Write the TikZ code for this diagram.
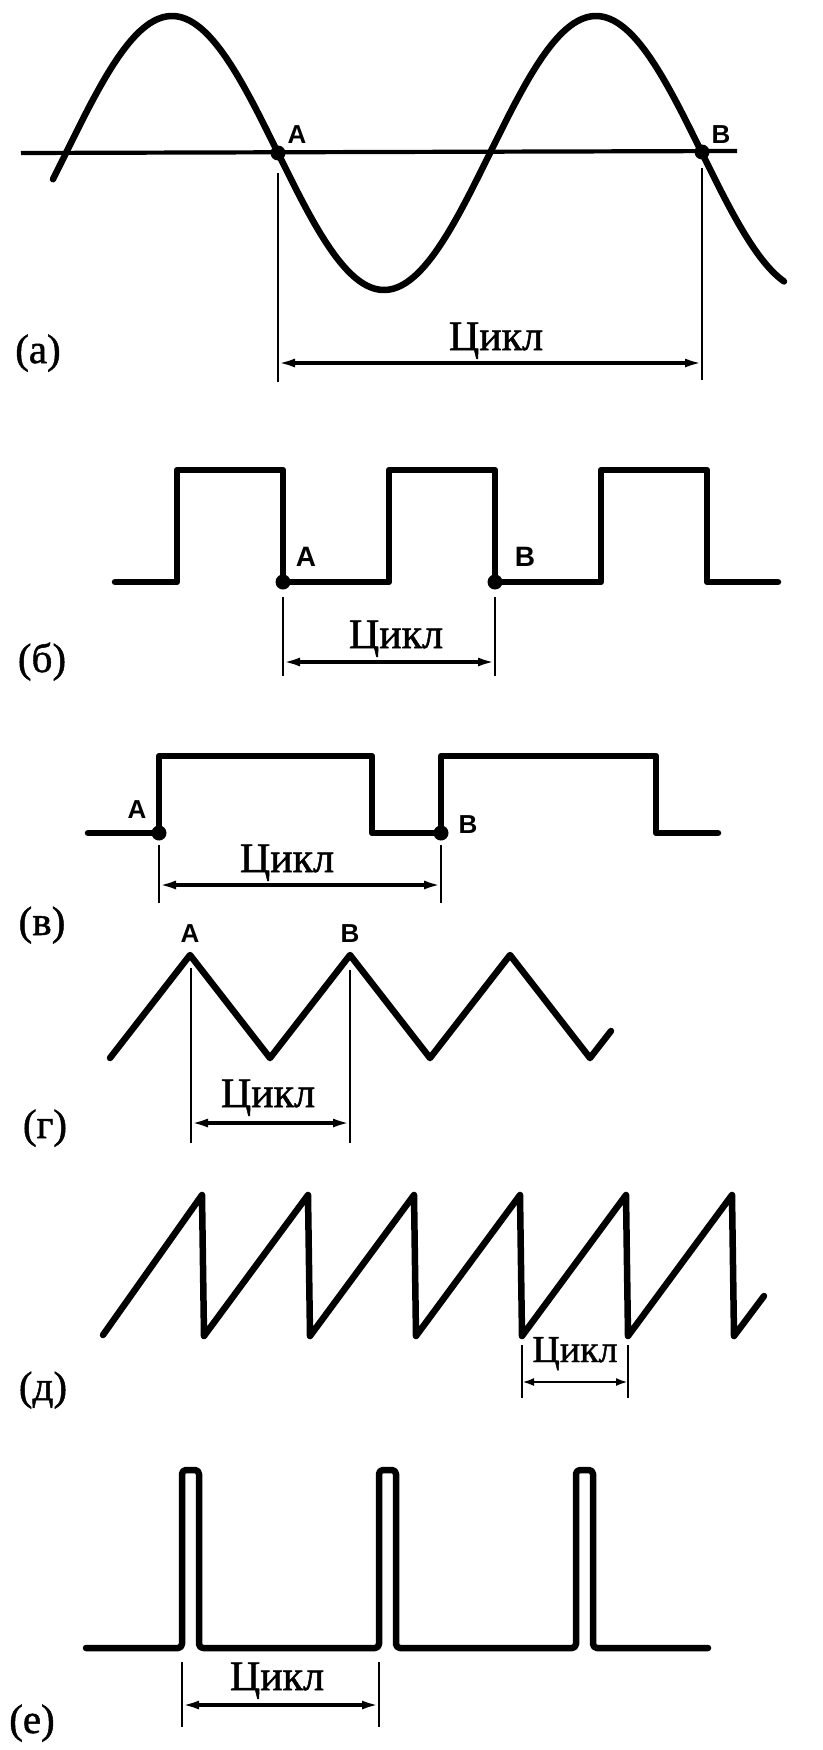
\documentclass[tikz,border=0pt]{standalone}
\usepackage{fontspec}
\setmainfont{Liberation Serif}[FakeBold=1.2]
\newfontfamily\labfont{Liberation Sans}
\usetikzlibrary{arrows.meta}
\begin{document}
\begin{tikzpicture}[x=1pt,y=-1pt,
  wave/.style={line width=6.5pt, line join=round, line cap=round},
  ext/.style={line width=2.6pt},
  dim/.style={line width=3.2pt, {Latex[length=17pt,width=9pt]}-{Latex[length=17pt,width=9pt]}},
  dimsmall/.style={line width=2.8pt, {Latex[length=12pt,width=8pt]}-{Latex[length=12pt,width=8pt]}},
  cyc/.style={font=\fontsize{42}{42}\selectfont, anchor=base, inner sep=0pt},
  pan/.style={font=\fontsize{41}{41}\selectfont, anchor=base, inner sep=0pt},
  ptl/.style={font=\labfont\bfseries\fontsize{26}{26}\selectfont, inner sep=0pt},
  dot/.style={circle, fill, inner sep=0pt, minimum size=15pt}]
\useasboundingbox (0,0) rectangle (822,1750);

% ---------- (a) sine ----------
\coordinate (axL) at (21,153);
\coordinate (axR) at (737,151);
\draw[line width=4.2pt] (axL) -- (axR);
\draw[wave] plot[domain=53:784, samples=220, smooth] (\x, {153 - 137*sin(0.849057*(\x-66))});
\node[dot] (aA) at (278,153) {};
\node[dot] (aB) at (702,152) {};
\node[ptl] (aAl) at (297,135) {A};
\node[ptl] (aBl) at (721,135) {B};
\coordinate (aA1) at (278,173); \coordinate (aA2) at (278,382);
\coordinate (aB1) at (702,168); \coordinate (aB2) at (702,380);
\draw[ext] (aA1) -- (aA2);
\draw[ext] (aB1) -- (aB2);
\coordinate (aD1) at (278,363); \coordinate (aD2) at (702,363);
\draw[dim] (aD1) -- (aD2);
\node[cyc] (aC) at (496,350) {Цикл};
\node[pan] (aP) at (38,363) {(а)};

% ---------- (б) square ----------
\draw[wave] (115,582) -- (177,582) -- (177,470) -- (283,470) -- (283,582) -- (389,582) -- (389,470) -- (495,470) -- (495,582) -- (601,582) -- (601,470) -- (707,470) -- (707,582) -- (778,582);
\node[dot] (bA) at (283,582) {};
\node[dot] (bB) at (495,582) {};
\node[ptl, font=\labfont\bfseries\fontsize{28}{28}\selectfont] (bAl) at (306,557) {A};
\node[ptl, font=\labfont\bfseries\fontsize{28}{28}\selectfont] (bBl) at (525,557) {B};
\coordinate (bA1) at (283,597); \coordinate (bA2) at (283,676);
\coordinate (bB1) at (495,597); \coordinate (bB2) at (495,676);
\draw[ext] (bA1) -- (bA2);
\draw[ext] (bB1) -- (bB2);
\coordinate (bD1) at (283,662); \coordinate (bD2) at (495,662);
\draw[dim] (bD1) -- (bD2);
\node[cyc] (bC) at (396,648) {Цикл};
\node[pan] (bP) at (42,672) {(б)};

% ---------- (в) rectangular ----------
\draw[wave] (88,833) -- (159,833) -- (159,756) -- (372,756) -- (372,833) -- (441,833) -- (441,756) -- (656,756) -- (656,833) -- (718,833);
\node[dot] (cA) at (159,833) {};
\node[dot] (cB) at (441,833) {};
\node[ptl] (cAl) at (137,810) {A};
\node[ptl] (cBl) at (468,825) {B};
\coordinate (cA1) at (159,845); \coordinate (cA2) at (159,903);
\coordinate (cB1) at (441,845); \coordinate (cB2) at (441,903);
\draw[ext] (cA1) -- (cA2);
\draw[ext] (cB1) -- (cB2);
\coordinate (cD1) at (159,885); \coordinate (cD2) at (441,885);
\draw[dim] (cD1) -- (cD2);
\node[cyc] (cC) at (287,872) {Цикл};
\node[pan] (cP) at (42,935) {(в)};

% ---------- (г) triangle ----------
\draw[wave] (110,1058) -- (190,955) -- (270,1058) -- (350,955) -- (430,1058) -- (510,955) -- (590,1058) -- (611,1031);
\node[ptl] (dAl) at (190,934) {A};
\node[ptl] (dBl) at (350,934) {B};
\coordinate (dA1) at (191,968); \coordinate (dA2) at (191,1143);
\coordinate (dB1) at (350,970); \coordinate (dB2) at (350,1143);
\draw[ext] (dA1) -- (dA2);
\draw[ext] (dB1) -- (dB2);
\coordinate (dD1) at (191,1123); \coordinate (dD2) at (350,1123);
\draw[dim] (dD1) -- (dD2);
\node[cyc] (dC) at (268,1107) {Цикл};
\node[pan] (dP) at (45,1138) {(г)};

% ---------- (д) sawtooth ----------
\draw[wave] (103,1335) -- (202,1195) -- (204,1336) -- (308,1195) -- (310,1336) -- (414,1195) -- (416,1336) -- (520,1195) -- (522,1336) -- (626,1195) -- (628,1336) -- (732,1195) -- (734,1336) -- (764,1296);
\coordinate (eA1) at (522,1345); \coordinate (eA2) at (522,1398);
\coordinate (eB1) at (628,1345); \coordinate (eB2) at (628,1398);
\draw[ext] (eA1) -- (eA2);
\draw[ext] (eB1) -- (eB2);
\coordinate (eD1) at (522,1382); \coordinate (eD2) at (628,1382);
\draw[dimsmall] (eD1) -- (eD2);
\node[cyc, font=\fontsize{38}{38}\selectfont] (eC) at (575,1362) {Цикл};
\node[pan] (eP) at (43,1400) {(д)};

% ---------- (е) pulses ----------
\draw[wave, rounded corners=4pt] (86,1648) -- (182,1648) -- (182,1470) -- (199,1470) -- (199,1648) -- (379,1648) -- (379,1470) -- (396,1470) -- (396,1648) -- (576,1648) -- (576,1470) -- (593,1470) -- (593,1648) -- (708,1648);
\coordinate (fA1) at (182,1662); \coordinate (fA2) at (182,1727);
\coordinate (fB1) at (379,1662); \coordinate (fB2) at (379,1727);
\draw[ext] (fA1) -- (fA2);
\draw[ext] (fB1) -- (fB2);
\coordinate (fD1) at (182,1705); \coordinate (fD2) at (379,1705);
\draw[dim] (fD1) -- (fD2);
\node[cyc] (fC) at (277,1690) {Цикл};
\node[pan] (fP) at (32,1733) {(е)};
\end{tikzpicture}
\end{document}
